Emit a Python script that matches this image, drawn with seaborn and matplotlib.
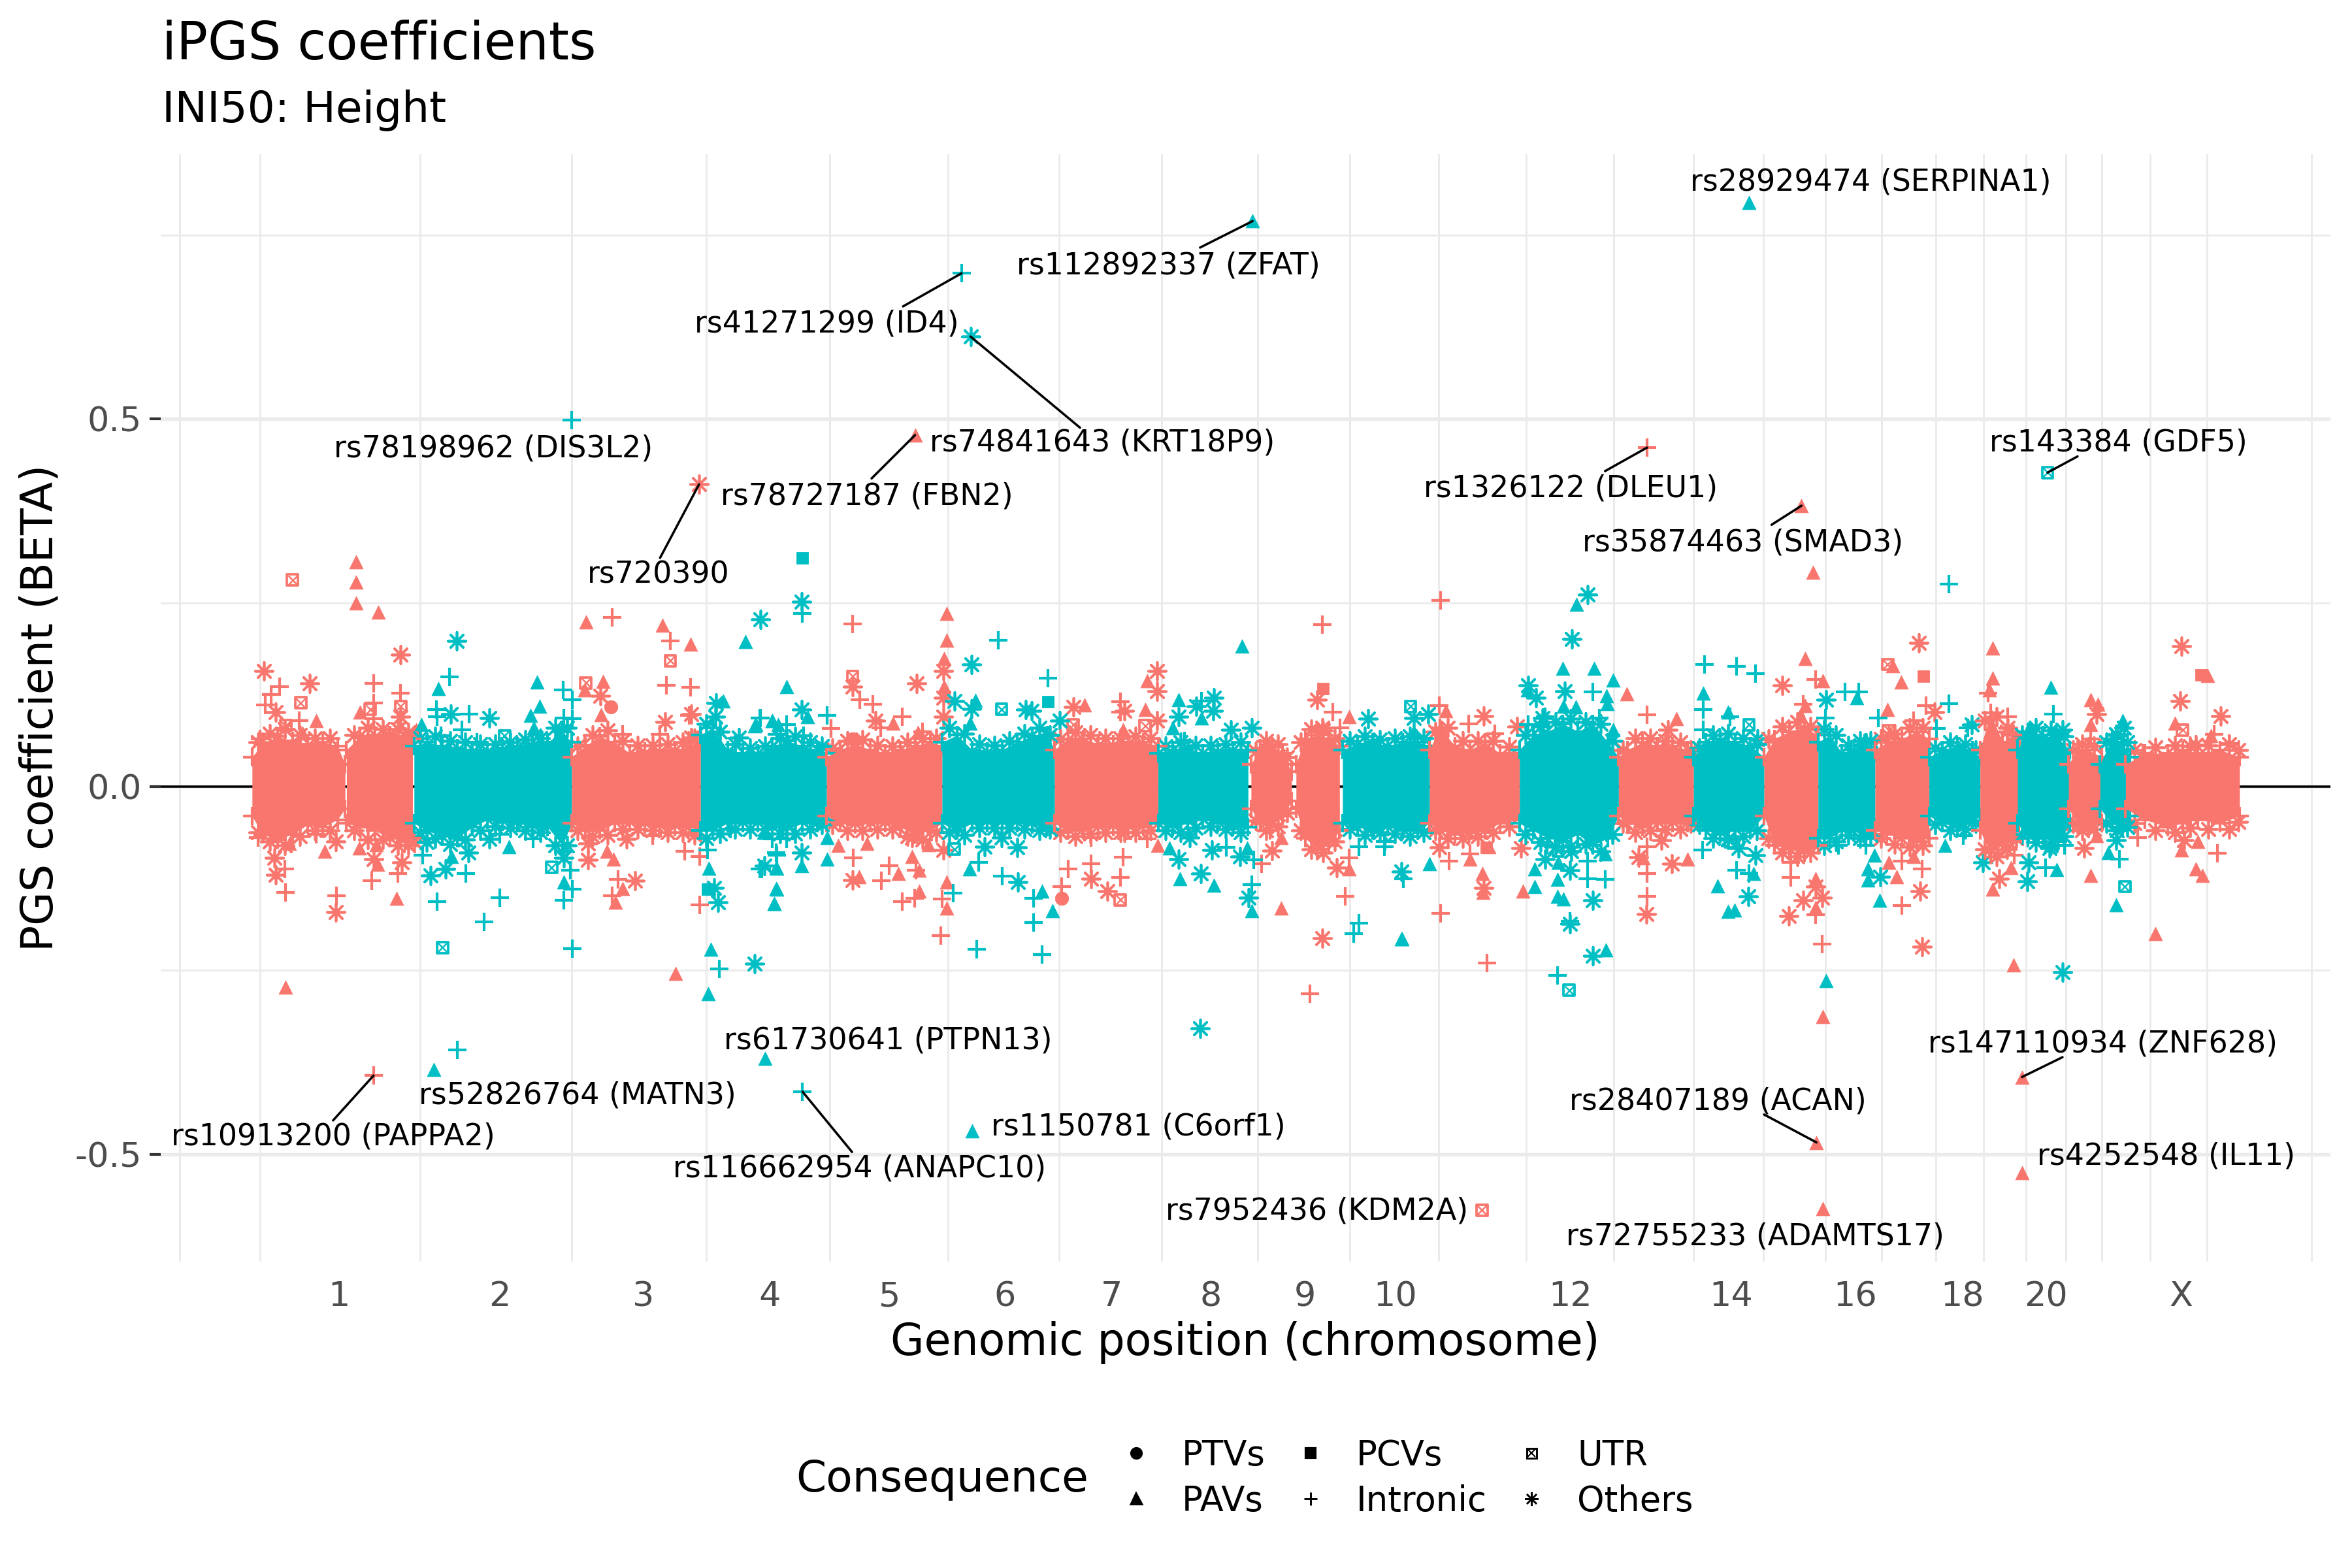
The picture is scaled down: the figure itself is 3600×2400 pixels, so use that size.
import matplotlib
matplotlib.use("Agg")
import matplotlib.pyplot as plt
from matplotlib.lines import Line2D
from matplotlib.markers import MarkerStyle
import seaborn as sns

SALMON = "#F8766D"
TEAL = "#00BFC4"

# position is cumulative along the genome, beta is the PGS coefficient
chrom_ticks = [226, 333, 429, 513, 593, 670, 741, 807, 870, 930, 1047, 1154, 1237, 1308, 1364, 1454]
chrom_labels = ["1", "2", "3", "4", "5", "6", "7", "8", "9", "10", "12", "14", "16", "18", "20", "X"]
minor_x = [119.8, 173.3, 280, 381.1, 470.8, 553.1, 632, 706, 774.4, 838.4, 899.8, 959, 1017.4,
           1075.8, 1128.9, 1175.5, 1216.9, 1254.4, 1290.5, 1322.3, 1350.6, 1377.2, 1401.1,
           1433.4, 1471.3, 1540.9]

# dense part of each chromosome: position, upper and lower reach
env_color = [SALMON, SALMON, TEAL, SALMON, TEAL, SALMON, TEAL, SALMON, TEAL, SALMON, SALMON, TEAL,
             SALMON, TEAL, SALMON, TEAL, SALMON, TEAL, SALMON, TEAL, SALMON, TEAL, SALMON, TEAL, SALMON]
env_pos = [
    [168, 175, 185, 195, 205, 215, 225, 230],
    [231, 240, 250, 260, 270, 275],
    [276, 285, 295, 305, 315, 325, 335, 345, 355, 365, 375, 381],
    [381, 390, 400, 410, 420, 430, 440, 450, 460, 467],
    [467, 475, 485, 495, 505, 515, 525, 535, 545, 551],
    [551, 560, 570, 580, 590, 600, 610, 620, 628],
    [628, 638, 648, 658, 668, 678, 688, 698, 703],
    [703, 712, 722, 732, 742, 752, 762, 772],
    [772, 782, 792, 802, 812, 822, 832],
    [834, 840, 848, 855, 861],
    [864, 870, 878, 886, 893],
    [895, 905, 915, 925, 935, 945, 953],
    [953, 960, 970, 980, 990, 1000, 1013],
    [1013, 1022, 1032, 1042, 1052, 1062, 1072, 1079],
    [1079, 1085, 1095, 1105, 1115, 1125, 1129],
    [1129, 1137, 1147, 1157, 1167, 1176],
    [1176, 1183, 1193, 1203, 1212],
    [1212, 1220, 1228, 1236, 1244, 1250],
    [1250, 1258, 1268, 1278, 1286],
    [1286, 1295, 1305, 1315, 1320],
    [1320, 1327, 1335, 1342, 1346],
    [1345, 1352, 1362, 1372, 1380],
    [1379, 1385, 1392, 1401],
    [1400, 1408, 1415, 1420],
    [1417, 1430, 1445, 1455, 1465, 1480, 1493],
]
env_top = [
    [.04, .058, .068, .062, .058, .06, .055, .03],
    [.05, .068, .07, .07, .068, .065],
    [.055, .06, .055, .052, .05, .05, .052, .055, .058, .06, .075, .06],
    [.04, .055, .068, .06, .045, .048, .05, .05, .055, .06],
    [.07, .08, .05, .045, .045, .055, .062, .055, .05, .045],
    [.04, .05, .058, .05, .045, .05, .055, .06, .055],
    [.06, .07, .05, .048, .05, .06, .068, .07, .05],
    [.05, .065, .065, .058, .058, .06, .06, .055],
    [.045, .05, .052, .045, .05, .05, .05],
    [.03, .052, .055, .045, .02],
    [.03, .065, .07, .065, .055],
    [.05, .058, .06, .055, .06, .06, .055],
    [.05, .08, .055, .05, .06, .045, .045],
    [.05, .07, .075, .085, .075, .085, .06, .04],
    [.04, .05, .06, .055, .055, .05, .04],
    [.04, .06, .065, .06, .055, .04],
    [.04, .065, .075, .08, .07],
    [.06, .07, .045, .05, .06, .045],
    [.05, .06, .065, .075, .065],
    [.04, .05, .055, .05, .04],
    [.05, .1, .06, .07, .05],
    [.05, .075, .07, .065, .05],
    [.03, .05, .05, .04],
    [.03, .065, .06, .04],
    [.03, .045, .045, .05, .045, .05, .04],
]
env_bot = [
    [-.04, -.065, -.072, -.065, -.052, -.055, -.045, -.03],
    [-.05, -.055, -.06, -.07, -.075, -.07],
    [-.05, -.06, -.068, -.07, -.055, -.045, -.048, -.05, -.055, -.055, -.08, -.05],
    [-.05, -.06, -.06, -.05, -.05, -.052, -.055, -.055, -.055, -.06],
    [-.06, -.06, -.05, -.05, -.05, -.055, -.058, -.05, -.05, -.045],
    [-.04, -.05, -.052, -.05, -.05, -.055, -.065, -.06, -.05],
    [-.05, -.06, -.05, -.05, -.05, -.05, -.052, -.055, -.05],
    [-.05, -.06, -.06, -.055, -.055, -.055, -.055, -.05],
    [-.05, -.055, -.05, -.045, -.05, -.055, -.055],
    [-.03, -.05, -.052, -.04, -.02],
    [-.03, -.07, -.085, -.08, -.06],
    [-.05, -.055, -.06, -.055, -.06, -.06, -.05],
    [-.05, -.06, -.065, -.06, -.06, -.05, -.045],
    [-.05, -.06, -.07, -.075, -.065, -.08, -.07, -.04],
    [-.04, -.05, -.055, -.05, -.05, -.05, -.04],
    [-.04, -.06, -.065, -.06, -.06, -.04],
    [-.04, -.08, -.085, -.09, -.08],
    [-.07, -.07, -.06, -.06, -.07, -.055],
    [-.06, -.065, -.07, -.075, -.07],
    [-.04, -.05, -.055, -.05, -.04],
    [-.06, -.09, -.08, -.075, -.05],
    [-.05, -.07, -.07, -.075, -.05],
    [-.03, -.05, -.055, -.05],
    [-.03, -.05, -.055, -.04],
    [-.03, -.045, -.055, -.05, -.045, -.05, -.04],
]

# thin fringe of variants around the dense part
fr_sal_pos = [172, 180, 190, 200, 210, 220, 236, 245, 255, 265, 272,
              385, 395, 405, 415, 425, 435, 445, 455, 463,
              555, 565, 575, 585, 595, 605, 615, 624,
              707, 717, 727, 737, 747, 757, 767,
              837, 844, 852, 858, 867, 874, 882, 890,
              957, 965, 975, 985, 995, 1006,
              1082, 1090, 1100, 1110, 1120, 1127,
              1179, 1188, 1198, 1207,
              1254, 1263, 1273, 1282,
              1323, 1331, 1338, 1344,
              1382, 1388, 1396,
              1423, 1437, 1450, 1460, 1472, 1486, 1492]
fr_sal_top = [.06, .072, .078, .07, .066, .066, .07, .08, .078, .078, .074,
              .055, .07, .076, .062, .056, .056, .058, .06, .066,
              .052, .062, .064, .056, .055, .06, .066, .066,
              .065, .074, .07, .066, .066, .068, .066,
              .048, .062, .058, .04, .06, .078, .076, .066,
              .075, .08, .062, .062, .062, .054,
              .05, .066, .066, .062, .06, .05,
              .065, .082, .088, .082,
              .065, .072, .08, .08,
              .09, .095, .075, .065,
              .05, .058, .055,
              .05, .053, .056, .055, .056, .058, .05]
fr_sal_bot = [-.062, -.075, -.08, -.068, -.06, -.06, -.06, -.072, -.072, -.08, -.08,
              -.06, -.068, -.066, -.058, -.058, -.06, -.062, -.062, -.066,
              -.052, -.06, -.06, -.058, -.058, -.068, -.072, -.062,
              -.062, -.068, -.064, -.062, -.062, -.062, -.06,
              -.046, -.06, -.054, -.036, -.06, -.085, -.09, -.075,
              -.06, -.07, -.07, -.068, -.062, -.054,
              -.05, -.062, -.06, -.058, -.058, -.05,
              -.07, -.09, -.095, -.09,
              -.07, -.078, -.082, -.08,
              -.085, -.095, -.085, -.07,
              -.05, -.06, -.058,
              -.05, -.06, -.062, -.056, -.058, -.058, -.048]
fr_teal_pos = [280, 290, 300, 310, 320, 330, 340, 350, 360, 370, 378,
               471, 480, 490, 500, 510, 520, 530, 540, 548,
               633, 643, 653, 663, 673, 683, 693, 700,
               777, 787, 797, 807, 817, 827,
               900, 910, 920, 930, 940, 949,
               1017, 1027, 1037, 1047, 1057, 1067, 1075,
               1133, 1142, 1152, 1162, 1171,
               1216, 1224, 1232, 1240, 1247,
               1290, 1300, 1310, 1317,
               1348, 1357, 1367, 1376,
               1404, 1411, 1418]
fr_teal_top = [.066, .068, .062, .06, .058, .058, .06, .064, .066, .08, .08,
               .085, .075, .058, .052, .055, .066, .068, .06, .055,
               .08, .072, .058, .056, .062, .072, .08, .07,
               .055, .06, .056, .056, .058, .06,
               .062, .068, .064, .066, .068, .066,
               .07, .082, .088, .092, .088, .085, .062,
               .052, .07, .072, .066, .058,
               .078, .07, .056, .062, .062,
               .052, .06, .058, .05,
               .07, .08, .076, .068,
               .06, .07, .06]
fr_teal_bot = [-.062, -.07, -.078, -.072, -.06, -.054, -.056, -.06, -.062, -.08, -.08,
               -.07, -.064, -.058, -.058, -.058, -.064, -.064, -.058, -.052,
               -.062, -.066, -.056, -.056, -.056, -.058, -.06, -.058,
               -.06, -.062, -.056, -.054, -.058, -.062,
               -.058, -.066, -.062, -.064, -.068, -.062,
               -.065, -.076, -.082, -.082, -.078, -.088, -.065,
               -.052, -.07, -.072, -.068, -.06,
               -.08, -.075, -.066, -.07, -.066,
               -.052, -.06, -.058, -.05,
               -.065, -.076, -.08, -.068,
               -.05, -.06, -.055]

# variants outside the dense part
sal_tri_pos = [237.4, 237.4, 237.4, 252, 390.7, 441.6, 460.2, 401.8, 389.9, 400.5, 210.7, 201.5, 239.9, 190.4, 264.3, 216.3, 193, 239.3, 251, 251.8, 408.8, 414.9, 410.2, 404.6, 450.2, 277.4,
               630.9, 630.9, 629.2, 629.2, 595.4, 612, 763.4, 764.8, 723.1, 748.7, 899.5, 558.7, 572.6, 578.1, 598.7, 607.9, 612.9, 612.9, 618.9, 630.9, 630.9, 771.8, 854.3, 854.3, 899.5,
               963.8, 960.4, 979.9, 988.2, 988.8, 1015.2, 1084.6, 1117.4, 1098, 1095.2, 1125.2, 1208.5, 1203.5, 1215.2, 1200.2, 1203.5, 1210.4, 1210.4, 1258.2, 1259, 1267.4, 1261.9, 1328.5, 1328.5, 1326.3, 1328.5, 1275.7, 1264.6, 1342.4, 992.4,
               1471.7, 1449.9, 1473.9, 1465, 1463.9, 1468.4, 1454.4, 1436.8, 1393.9, 1397.7, 1393.9, 1398.4, 1393.9, 1340.6, 1215, 1215,
               610, 1201, 1211, 1348, 1348]
sal_tri_beta = [.306, .278, .25, .237, .224, .219, .194, .143, .131, .098, .09, .073, .101, -.273, -.152, -.088, -.077, -.084, -.079, -.106, -.099, -.139, -.157, -.088, -.254, .077,
                .235, .199, .174, .136, .086, .074, .105, .144, .111, .077, .095, -.08, -.123, -.077, -.118, -.095, -.114, -.142, -.079, -.13, -.165, -.08, -.069, -.165, -.112,
                .103, .08, -.099, -.118, -.144, -.142, .126, .092, .058, -.097, -.099, .291, .174, .144, .097, .11, -.125, -.164, .105, -.103, .142, .164, .188, .147, .131, -.14, -.095, -.123, -.243, -.082,
                .151, .086, .069, -.075, -.112, -.121, -.086, -.2, -.121, -.067, .118, .112, .084, -.11, -.313, -.574,
                .478, .382, -.484, -.395, -.525]
sal_plus_pos = [408, 446.8, 444.1, 460.2, 186.3, 180.7, 176.6, 199.6, 249, 267.1, 249, 249, 173.2, 189.9, 190.4, 224.3, 247.7, 265.4, 412.1, 408, 466.3, 435.2, 456.6, 466.3, 171.8, 210.7, 414.9, 389.9, 439.9, 459.4,
                568.4, 573.1, 582, 601.5, 554.2, 587, 592.6, 587.6, 610.6, 609.8, 601.5, 628.1, 627.3, 569, 746.8, 746.8, 712, 707.9, 727.3, 748.7, 746.8, 764.8, 727.3, 881.5, 873.2, 896.8, 899.5, 841.2, 846.8, 888.4, 893.1, 614.8,
                960.2, 959.6, 979, 996.5, 966, 979.9, 960.2, 991.5, 1098, 1098, 1098, 1098, 1202.1, 1210.4, 1193.8, 1193.8, 1214.6, 1210.4, 1268, 1268, 1281.3, 1284, 1275.7,
                1476.1, 1486.1, 1428.4, 1478.4, 1425, 1393.9, 1342.8, 1338.4, 1325.5, 1098, 249]
sal_plus_beta = [.23, .198, .138, .135, .136, .125, .111, .09, .14, .127, .114, .092, .065, -.112, -.144, -.148, -.128, -.118, -.126, -.148, -.161, -.067, -.088, -.095, -.069, -.065, .071, .056, .071, .097,
                 .221, .118, .112, .095, .079, .08, -.108, -.128, -.114, -.152, -.156, -.153, -.203, -.097, .115, .101, -.112, -.136, -.105, -.096, -.124, -.071, -.069, .22, -.282, -.149, -.097, -.105, -.06, .101, .08, .075,
                 .253, .11, .085, .072, -.101, -.092, -.172, -.24, .098, -.082, -.118, -.149, .112, .146, -.103, -.124, -.214, -.174, -.162, -.101, -.112, .11, .09,
                 .071, .059, .045, -.091, -.069, .065, -.093, .095, .127, .461, -.393]
sal_star_pos = [176, 206.6, 267.1, 183.8, 267.1, 400.2, 443.5, 460.7, 182.9, 183.8, 223.8, 223.8, 249, 267.7, 276, 391.8, 391.8, 423.2, 417.7, 259.3, 460.7,
                611.2, 628.7, 628.7, 628.7, 583.4, 568.4, 568.4, 607.9, 628.7, 715.4, 749.5, 771.2, 771.2, 771.2, 727.3, 738.4, 848.2, 881.5, 878.1, 891.2, 881.5, 749.5,
                989, 1011.3, 959.6, 979, 1014, 989, 1111.8, 1107.7, 1114.6, 1092.4, 1097.4, 1188.2, 1202.1, 1192.4, 1214.6, 1210.4, 1279.1, 1289.6, 1259, 1279.9, 1281.3,
                1454.4, 1453.5, 1480.6, 1463.9, 1456.1, 1389.5, 1385, 1397.7, 1332.8, 1338.4, 466]
sal_star_beta = [.157, .14, .179, .101, .095, .123, .088, .099, -.097, -.12, -.171, -.075, -.099, -.103, -.075, -.077, -.1, -.128, -.071, .069, .067,
                 .14, .157, .121, .095, .09, .136, -.127, -.069, -.086, .108, .103, .157, .13, .09, -.125, -.142, -.087, -.206, .118, -.11, .08, -.062,
                 .096, .082, -.083, -.062, -.084, -.138, .077, -.073, -.105, -.096, -.173, .138, -.155, -.176, -.151, -.136, .195, .101, .069, -.142, -.218,
                 .191, .116, .096, .057, -.073, -.084, -.052, .099, -.125, .08, .411]
sal_utr_pos = [194.9, 446.8, 390.5, 200.4, 190.4, 267.1, 246.8, 568.4, 763.4, 746.8, 715.4, 872.3, 1258.5, 1259, 1455, 988]
sal_utr_beta = [.281, .171, .141, .114, .083, .109, .105, .15, .083, -.154, .084, -.062, .166, .076, .077, -.576]
sal_sq_pos = [882.1, 1282.4, 991, 1467.3]
sal_sq_beta = [.133, .15, -.083, .152]
sal_ptv_pos = [407.4, 568.4, 707.9]
sal_ptv_beta = [.108, .065, -.152]

teal_tri_pos = [292.1, 357.9, 359.9, 353.8, 356, 373.2, 496.9, 482.1, 503.2, 280.7, 514.9, 339.3, 301, 376, 472.7, 517.7, 517.7, 516.3, 473.8, 472.1, 510.2,
                524.5, 538.4, 503.7, 514.8, 518.9, 650.1, 646.7, 551.5, 551.5, 534.2, 517.6, 517.6, 516.2, 509.2, 646.2, 694.5, 701.5, 828.1, 785.6, 782, 800.9, 779.5, 786.5, 809.3, 834.3, 934.3, 831.5,
                942.4, 952.9, 934.6, 1018.2, 1041.8, 1062.7, 1075.2, 1071, 1071.6, 1042.4, 1050.7, 1051, 1075.2, 1070.2, 1023, 1023, 1038.8, 1038.2, 1038.2, 1042.4, 1070.7, 1135.4, 1152.1, 1145.2, 1152.1, 1156.2, 1168.8, 1237.7, 1217.4, 1249.4, 1245.2, 1245.2, 1252.9, 1296.6,
                1367.3, 1415, 1352.8, 1370.6, 1371.3, 1405.7, 1410.6, 289, 510, 648, 1166, 835]
teal_tri_beta = [.133, .142, .109, .097, .08, .075, .197, .116, .083, .084, .09, -.082, -.095, -.13, -.111, -.111, -.14, -.159, -.221, -.282, -.062,
                 .136, .095, .084, .09, .084, .117, .086, -.069, -.099, -.108, -.11, -.139, -.159, -.062, -.112, -.142, -.169, .191, .118, .08, .093, -.084, -.125, -.134, -.169, -.207, -.084,
                 .075, -.105, -.207, .131, .161, .161, .145, .123, .113, .109, .108, .248, .077, -.092, -.112, -.136, -.103, -.126, -.149, -.153, -.222, .127, .101, -.135, -.17, -.168, -.118, .121, -.264, -.093, -.112, -.127, -.155, -.08,
                 .135, .09, .08, .075, -.113, -.09, -.161, -.385, -.37, -.468, .794, .769]
teal_plus_pos = [299.6, 290.7, 291.3, 312.7, 307.9, 294, 317.7, 375.2, 381.6, 376, 381.6, 291.3, 333, 322.7, 381.3, 376, 381.6, 380.2, 281.6, 310.7, 333, 355.2, 375.5, 471.8, 479.3, 517.7, 506.6, 517.7, 506.6, 487.1, 514.9,
                 534.8, 665.6, 698.7, 551.5, 507, 524.5, 535.6, 517.6, 524.5, 507.8, 667.9, 635.6, 689.2, 689.2, 694.5, 650.9, 652.3, 817.6, 834.3, 835.6, 905.9, 905.9, 902.3, 923.2, 789.8, 800.9,
                 935.4, 922.9, 1061.8, 1066, 1018.8, 1029.9, 1038.2, 1058.5, 1070.2, 1058.5, 1046.6, 1136.3, 1157.7, 1170.2, 1135.4, 1135.4, 1153.5, 1134.9, 1157.7, 1166, 1229.9, 1239.1, 1216.8, 1225.7, 1299.3, 1299.3, 1252.1, 1291, 1311.8, 1243.8, 1309, 1031.3,
                 1368.8, 1376.2, 1363.9, 1412.8, 305, 535, 641, 381]
teal_plus_beta = [.149, .105, .095, .099, .077, .069, .06, .131, .118, .093, .092, -.156, -.151, -.184, -.22, -.155, -.14, -.114, -.093, -.118, -.065, -.071, -.088, -.086, -.248, -.093, .093, .071, -.112, -.058, -.071,
                  .235, .199, .147, .097, .093, .084, .069, -.09, -.071, -.112, -.122, -.145, -.152, -.185, -.228, -.221, -.103, -.083, -.133, -.1, -.082, -.186, -.2, -.075, .062, .116,
                  -.125, -.082, .129, .093, .084, .095, -.257, -.125, -.126, -.101, -.183, .166, .163, .154, .105, .077, .095, -.086, -.114, -.118, .129, .129, .093, -.08, .275, .113, .093, .079, .08, -.08, -.067, -.08,
                  .099, -.08, -.11, -.099, -.358, -.415, .698, .498]
teal_star_pos = [304.6, 507.1, 326, 300.4, 477.4, 476.9, 492.7, 287.1, 296.8, 284.3, 312.1, 326, 362.1, 376, 476, 478.8, 503.2, 509.4,
                 534.5, 534.2, 647.6, 636.2, 647.6, 683.7, 687.6, 706.5, 809.2, 808.7, 797.6, 785.6, 834.3, 820.4, 912, 534.2, 667.6, 678.1, 656.5, 678.7, 793.1, 785.6, 800.4, 807.9, 826.5, 832.3, 934.3,
                 942.4, 952.1, 1018.8, 1023.8, 1028.5, 1058.2, 1048, 1043.2, 1029.9, 1046.6, 1061.8, 1046.6, 1061.8, 1047.4, 1165.5, 1159, 1217.4, 1253.5, 1242.4, 1171.6, 1170.2, 1152.1, 1314.6,
                 1375, 1416.1, 1375, 1410.6, 1321.7, 1352.2, 1351.7, 1366.2, 1410.6, 800, 647]
teal_star_beta = [.198, .227, .093, .099, .114, .095, .067, -.121, -.112, -.076, -.09, -.071, -.054, -.097, -.138, -.157, -.241, -.108,
                  .251, .105, .166, .116, .106, .105, .103, .09, .121, .103, .109, .095, .08, .077, .092, -.09, -.069, -.083, -.082, -.13, -.069, -.099, -.118, -.086, -.095, -.151, -.116,
                  .093, .099, .138, .121, .093, .261, .201, .13, -.099, -.114, -.155, -.187, -.23, -.088, -.149, -.084, .118, -.123, .054, .065, -.093, -.071, .084,
                  -.252, .08, .077, .071, -.103, -.103, -.129, -.084, -.073, -.329, .612]
teal_utr_pos = [294.9, 367.7, 336.3, 358, 636.2, 667.6, 940.4, 1166, 1046, 1038.8, 1153.5, 1416.6, 1365]
teal_utr_beta = [-.219, -.11, .069, .067, -.085, .105, .109, .084, -.277, -.088, -.075, -.136, .427]
teal_sq_pos = [471.8, 534.8, 698.7]
teal_sq_beta = [-.14, .311, .115]

# labelled variants: text, label centre, and leader lines
lab_text = ["rs28929474 (SERPINA1)", "rs112892337 (ZFAT)", "rs41271299 (ID4)", "rs74841643 (KRT18P9)",
            "rs78198962 (DIS3L2)", "rs78727187 (FBN2)", "rs720390", "rs1326122 (DLEU1)", "rs35874463 (SMAD3)",
            "rs143384 (GDF5)", "rs10913200 (PAPPA2)", "rs52826764 (MATN3)", "rs61730641 (PTPN13)",
            "rs116662954 (ANAPC10)", "rs1150781 (C6orf1)", "rs7952436 (KDM2A)", "rs28407189 (ACAN)",
            "rs72755233 (ADAMTS17)", "rs147110934 (ZNF628)", "rs4252548 (IL11)"]
lab_pos = [1247, 779, 551, 735, 329, 578, 439, 1047, 1162, 1412, 222, 385, 592, 573, 759, 878, 1145, 1170, 1402, 1444]
lab_beta = [.822, .708, .629, .467, .459, .394, .288, .405, .331, .467, -.476, -.42, -.346, -.52, -.463, -.578, -.428, -.612, -.35, -.503]
seg_from_pos = [835, 641, 647, 610, 466, 1098, 1201, 1365, 249, 535, 1211, 1348]
seg_from_beta = [.769, .698, .612, .478, .411, .461, .382, .427, -.393, -.415, -.484, -.395]
seg_to_pos = [800, 602, 720, 581, 440, 1070, 1181, 1385, 222, 568, 1176, 1375]
seg_to_beta = [.733, .653, .488, .419, .311, .429, .356, .449, -.454, -.497, -.446, -.368]

sns.set_theme(style="white")
plt.rcParams["font.family"] = ["DejaVu Sans"]
plt.rcParams["text.color"] = "black"

fig = plt.figure(figsize=(12, 8), dpi=300)
ax = fig.add_axes([246 / 3600, 1 - 1931 / 2400, (3567 - 246) / 3600, (1931 - 236) / 2400])
ax.set_xlim(107.1, 1553.6)
ax.set_ylim(-0.646, 0.86)

ax.axhline(0, color="black", lw=0.85, zorder=1.5)


def draw(xs, ys, col, kind):
    if kind == "tri":
        sns.scatterplot(x=xs, y=ys, marker="^", color=col, edgecolor=col, s=25, linewidth=0.2, ax=ax, zorder=3)
    elif kind == "plus":
        sns.scatterplot(x=xs, y=ys, marker="+", color=col, s=42, linewidth=1.0, ax=ax, zorder=3)
    elif kind == "star":
        sns.scatterplot(x=xs, y=ys, marker=(8, 2, 0), color=col, s=42, linewidth=0.9, ax=ax, zorder=3)
    elif kind == "utr":
        sns.scatterplot(x=xs, y=ys, marker=MarkerStyle("s", fillstyle="none"), color=col, s=16, linewidth=0.9, ax=ax, zorder=3)
        sns.scatterplot(x=xs, y=ys, marker="x", color=col, s=11, linewidth=0.6, ax=ax, zorder=3)
    elif kind == "sq":
        sns.scatterplot(x=xs, y=ys, marker="s", color=col, edgecolor=col, s=20, linewidth=0.2, ax=ax, zorder=3)
    else:
        sns.scatterplot(x=xs, y=ys, marker="o", color=col, edgecolor=col, s=24, linewidth=0.2, ax=ax, zorder=3)


draw(sal_tri_pos, sal_tri_beta, SALMON, "tri")
draw(sal_plus_pos, sal_plus_beta, SALMON, "plus")
draw(sal_star_pos, sal_star_beta, SALMON, "star")
draw(sal_utr_pos, sal_utr_beta, SALMON, "utr")
draw(sal_sq_pos, sal_sq_beta, SALMON, "sq")
draw(sal_ptv_pos, sal_ptv_beta, SALMON, "ptv")
draw(teal_tri_pos, teal_tri_beta, TEAL, "tri")
draw(teal_plus_pos, teal_plus_beta, TEAL, "plus")
draw(teal_star_pos, teal_star_beta, TEAL, "star")
draw(teal_utr_pos, teal_utr_beta, TEAL, "utr")
draw(teal_sq_pos, teal_sq_beta, TEAL, "sq")

draw(fr_sal_pos, fr_sal_top, SALMON, "star")
draw(fr_sal_pos, fr_sal_bot, SALMON, "star")
draw(fr_teal_pos, fr_teal_top, TEAL, "star")
draw(fr_teal_pos, fr_teal_bot, TEAL, "star")
for col, xs, top, bot in zip(env_color, env_pos, env_top, env_bot):
    ax.fill_between(xs, bot, top, color=col, lw=0, zorder=3)
    draw(xs, top, col, "plus")
    draw(xs, bot, col, "plus")

for x0, y0, x1, y1 in zip(seg_from_pos, seg_from_beta, seg_to_pos, seg_to_beta):
    ax.plot([x0, x1], [y0, y1], color="black", lw=0.85, zorder=4)
for txt, x, y in zip(lab_text, lab_pos, lab_beta):
    ax.text(x, y, txt, ha="center", va="center", fontsize=11, color="black", zorder=5)

# grid like theme_minimal
ax.set_xticks(chrom_ticks, chrom_labels)
ax.set_xticks(minor_x, minor=True)
ax.set_yticks([-0.5, 0, 0.5], ["-0.5", "0.0", "0.5"])
ax.set_yticks([-0.25, 0.25, 0.75], minor=True)
ax.set_axisbelow(True)
ax.grid(False)
ax.grid(True, which="minor", axis="x", color="#EBEBEB", lw=0.7)
ax.grid(True, which="major", axis="y", color="#EBEBEB", lw=1.3)
ax.grid(True, which="minor", axis="y", color="#EBEBEB", lw=0.7)
for side in ax.spines.values():
    side.set_visible(False)
ax.tick_params(axis="x", which="both", length=0, labelsize=12.6, labelcolor="#4D4D4D", pad=7)
ax.tick_params(axis="y", which="major", length=4, width=1, color="#333333", labelsize=12.6, labelcolor="#4D4D4D", pad=3, left=True)
ax.tick_params(axis="y", which="minor", length=0)

fig.text(248 / 3600, 1 - 91 / 2400, "iPGS coefficients", fontsize=19.1, va="baseline")
fig.text(248 / 3600, 1 - 187 / 2400, "INI50: Height", fontsize=15.9, va="baseline")
fig.text(62 / 3600, 1 - 1083 / 2400, "PGS coefficient (BETA)", fontsize=16, rotation=90, va="center", ha="center")
fig.text(1906 / 3600, 1 - 2055 / 2400, "Genomic position (chromosome)", fontsize=16, va="center", ha="center")
fig.text(1218 / 3600, 1 - 2265 / 2400, "Consequence", fontsize=15.9, va="center", ha="left")

h_ptv = Line2D([], [], ls="", marker="o", color="black", ms=3.6)
h_pav = Line2D([], [], ls="", marker="^", color="black", ms=3.6)
h_pcv = Line2D([], [], ls="", marker="s", color="black", ms=3.2)
h_int = Line2D([], [], ls="", marker="+", color="black", ms=5, mew=0.7)
h_utr = (Line2D([], [], ls="", marker="s", mfc="none", mec="black", ms=3.6, mew=0.7),
         Line2D([], [], ls="", marker="x", color="black", ms=3, mew=0.5))
h_oth = Line2D([], [], ls="", marker=(8, 2, 0), color="black", ms=5, mew=0.6)
fig.legend([h_ptv, h_pav, h_pcv, h_int, h_utr, h_oth],
           ["PTVs", "PAVs", "PCVs", "Intronic", "UTR", "Others"],
           ncol=3, frameon=False, fontsize=12.7, loc="center left",
           bbox_to_anchor=(1702 / 3600, 1 - 2263 / 2400), borderpad=0, borderaxespad=0,
           handlelength=1.4, handletextpad=0.62, columnspacing=0.6, labelspacing=0.34)

fig.savefig("out.png", dpi=300)
